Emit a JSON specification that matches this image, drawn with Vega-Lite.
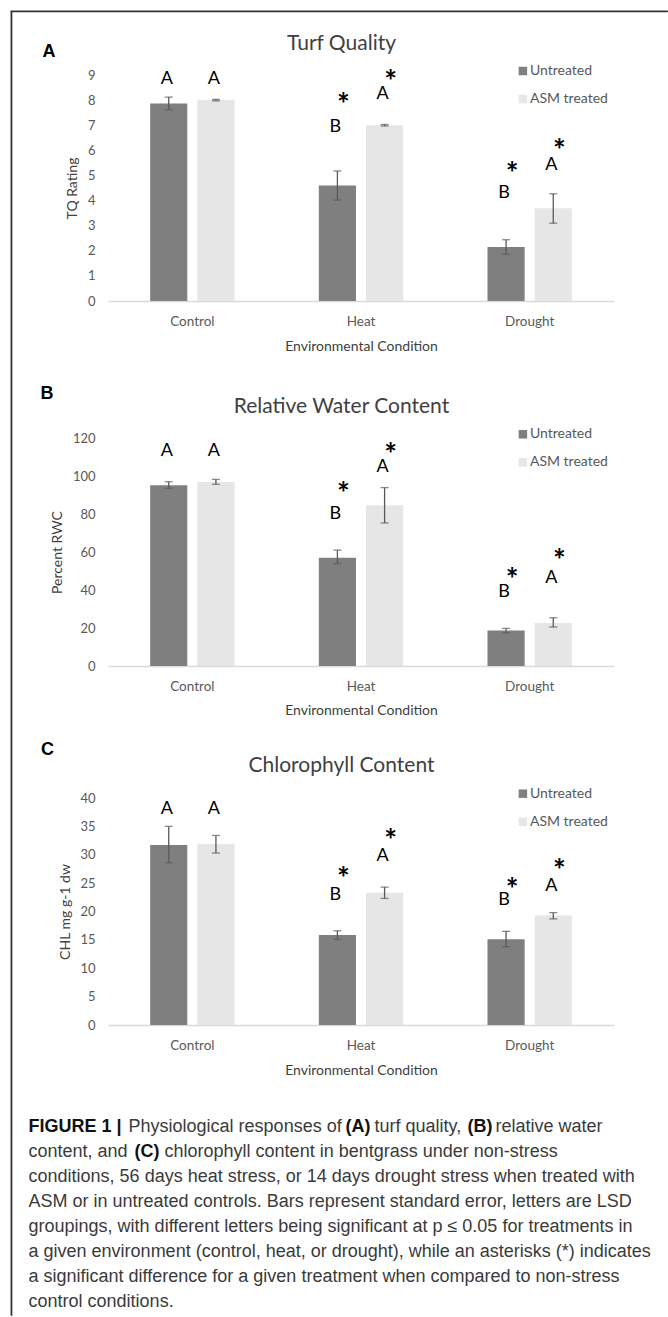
{
  "$schema": "https://vega.github.io/schema/vega-lite/v6.json",
  "padding": {"left": 10, "top": 10, "right": 0, "bottom": 0},
  "autosize": {"type": "pad"},
  "background": "white",
  "spacing": 0,
  "bounds": "flush",
  "config": {
    "view": {"stroke": null},
    "font": "Lato",
    "axis": {"grid": false, "ticks": false, "tickSize": 0, "domain": false, "labelFont": "Lato", "labelFontSize": 13, "labelColor": "#595959", "titleFont": "Lato", "titleFontSize": 14, "titleColor": "#404040", "titleFontWeight": "normal"},
    "legend": {"labelFont": "Lato", "labelFontSize": 14, "labelColor": "#595959", "symbolType": "square", "symbolSize": 72, "symbolStrokeWidth": 0, "rowPadding": 14, "labelOffset": 0, "padding": 0}
  },
  "vconcat": [
    {
      "width": 656, "height": 0.5,
      "view": {"stroke": "#333333", "strokeWidth": 1.3},
      "data": {"values": [{"v": 0}]},
      "mark": {"type": "point", "opacity": 0, "size": 0, "strokeWidth": 0},
      "encoding": {}
    },
    {
      "hconcat": [
        {
          "width": 0.5, "height": 1303,
          "view": {"stroke": "#333333", "strokeWidth": 1.3},
          "data": {"values": [{"v": 0}]},
          "mark": {"type": "point", "opacity": 0, "size": 0, "strokeWidth": 0},
          "encoding": {}
        },
        {
          "resolve": {"scale": {"color": "independent"}},
          "vconcat": [
            {
              "width": 506, "height": 62.9,
              "data": {"values": [{"v": 0}]},
              "mark": {"type": "point", "opacity": 0, "size": 0, "strokeWidth": 0},
              "encoding": {
                "x": {"field": "v", "type": "quantitative", "axis": {"title": "Turf Quality", "labels": false, "ticks": false, "domain": false, "grid": false, "titleX": 233, "titleY": -31.7, "titleAlign": "center", "titleBaseline": "middle", "titleFontSize": 21, "titleColor": "#404040"}},
                "y": {"field": "v", "type": "quantitative", "axis": {"title": "A", "labels": false, "ticks": false, "domain": false, "grid": false, "titleAngle": 0, "titleX": -59.6, "titleY": 39, "titleAlign": "center", "titleBaseline": "middle", "titleFont": "Liberation Sans", "titleFontSize": 18, "titleFontWeight": "bold", "titleColor": "#000000"}}
              }
            },
            {
              "width": 506, "height": 226,
              "data": {"values": [
                {"cond": "Control", "trt": "Untreated", "mean": 7.87, "lo": 7.62, "hi": 8.12, "let": "A", "ly": 8.87},
                {"cond": "Control", "trt": "ASM treated", "mean": 8.0, "lo": 7.97, "hi": 8.03, "let": "A", "ly": 8.87},
                {"cond": "Heat", "trt": "Untreated", "mean": 4.6, "lo": 4.02, "hi": 5.18, "let": "B", "ly": 6.97, "star": "*", "sy": 8.07},
                {"cond": "Heat", "trt": "ASM treated", "mean": 7.0, "lo": 6.97, "hi": 7.03, "let": "A", "ly": 8.27, "star": "*", "sy": 9.0},
                {"cond": "Drought", "trt": "Untreated", "mean": 2.15, "lo": 1.86, "hi": 2.44, "let": "B", "ly": 4.35, "star": "*", "sy": 5.35},
                {"cond": "Drought", "trt": "ASM treated", "mean": 3.69, "lo": 3.1, "hi": 4.27, "let": "A", "ly": 5.44, "star": "*", "sy": 6.24}
              ]},
              "encoding": {
                "x": {"field": "cond", "type": "nominal", "sort": ["Control", "Heat", "Drought"], "scale": {"paddingInner": 0.5, "paddingOuter": 0.25}, "axis": {"title": "Environmental Condition", "labelAngle": 0, "labelFontSize": 13.5, "labelPadding": 20.5, "labelBaseline": "middle", "domain": true, "domainColor": "#d9d9d9", "domainWidth": 1.3, "titleY": 45, "titleBaseline": "middle"}},
                "xOffset": {"field": "trt", "type": "nominal", "sort": ["Untreated", "ASM treated"], "scale": {"paddingInner": 0.213, "paddingOuter": 0}}
              },
              "layer": [
                {"mark": {"type": "bar"}, "encoding": {
                  "y": {"field": "mean", "type": "quantitative", "title": "TQ Rating", "scale": {"domain": [0, 9]}, "axis": {"title": "TQ Rating", "values": [0, 1, 2, 3, 4, 5, 6, 7, 8, 9], "labelPadding": 13, "titleX": -35.3, "titleBaseline": "middle"}},
                  "color": {"field": "trt", "type": "nominal", "sort": ["Untreated", "ASM treated"], "scale": {"domain": ["Untreated", "ASM treated"], "range": ["#7f7f7f", "#e7e6e6"]}, "legend": {"title": null, "orient": "none", "legendX": 407.9, "legendY": -11}}
                }},
                {"mark": {"type": "rule", "color": "#595959", "strokeWidth": 1.3}, "encoding": {
                  "y": {"field": "lo", "type": "quantitative", "title": "TQ Rating", "scale": {"domain": [0, 9]}, "axis": {"title": "TQ Rating", "values": [0, 1, 2, 3, 4, 5, 6, 7, 8, 9], "labelPadding": 13, "titleX": -35.3, "titleBaseline": "middle"}}, "y2": {"field": "hi"}}},
                {"mark": {"type": "tick", "color": "#595959", "thickness": 1.3, "size": 8}, "encoding": {
                  "y": {"field": "lo", "type": "quantitative", "title": "TQ Rating", "scale": {"domain": [0, 9]}, "axis": {"title": "TQ Rating", "values": [0, 1, 2, 3, 4, 5, 6, 7, 8, 9], "labelPadding": 13, "titleX": -35.3, "titleBaseline": "middle"}}}},
                {"mark": {"type": "tick", "color": "#595959", "thickness": 1.3, "size": 8}, "encoding": {
                  "y": {"field": "hi", "type": "quantitative", "title": "TQ Rating", "scale": {"domain": [0, 9]}, "axis": {"title": "TQ Rating", "values": [0, 1, 2, 3, 4, 5, 6, 7, 8, 9], "labelPadding": 13, "titleX": -35.3, "titleBaseline": "middle"}}}},
                {"mark": {"type": "text", "font": "Lato", "fontSize": 18, "color": "#000000", "baseline": "middle", "dx": -2, "dy": 1}, "encoding": {
                  "y": {"field": "ly", "type": "quantitative", "title": "TQ Rating", "scale": {"domain": [0, 9]}, "axis": {"title": "TQ Rating", "values": [0, 1, 2, 3, 4, 5, 6, 7, 8, 9], "labelPadding": 13, "titleX": -35.3, "titleBaseline": "middle"}}, "text": {"field": "let"}}},
                {"transform": [{"filter": "datum.star"}], "mark": {"type": "text", "font": "Lato", "fontWeight": "bold", "fontSize": 30, "color": "#000000", "baseline": "middle", "dx": 6, "dy": 8}, "encoding": {
                  "y": {"field": "sy", "type": "quantitative", "title": "TQ Rating", "scale": {"domain": [0, 9]}, "axis": {"title": "TQ Rating", "values": [0, 1, 2, 3, 4, 5, 6, 7, 8, 9], "labelPadding": 13, "titleX": -35.3, "titleBaseline": "middle"}}, "text": {"field": "star"}}}
              ]
            },
            {
              "width": 506, "height": 137,
              "data": {"values": [{"v": 0}]},
              "mark": {"type": "point", "opacity": 0, "size": 0, "strokeWidth": 0},
              "encoding": {
                "x": {"field": "v", "type": "quantitative", "axis": {"title": "Relative Water Content", "labels": false, "ticks": false, "domain": false, "grid": false, "titleX": 233, "titleY": -32, "titleAlign": "center", "titleBaseline": "middle", "titleFontSize": 21, "titleColor": "#404040"}},
                "y": {"field": "v", "type": "quantitative", "axis": {"title": "B", "labels": false, "ticks": false, "domain": false, "grid": false, "titleAngle": 0, "titleX": -61.6, "titleY": 92, "titleAlign": "center", "titleBaseline": "middle", "titleFont": "Liberation Sans", "titleFontSize": 18, "titleFontWeight": "bold", "titleColor": "#000000"}}
              }
            },
            {
              "width": 506, "height": 228,
              "data": {"values": [
                {"cond": "Control", "trt": "Untreated", "mean": 95.1, "lo": 93.5, "hi": 97.0, "let": "A", "ly": 113.7},
                {"cond": "Control", "trt": "ASM treated", "mean": 96.8, "lo": 95.6, "hi": 98.2, "let": "A", "ly": 113.7},
                {"cond": "Heat", "trt": "Untreated", "mean": 57.0, "lo": 53.9, "hi": 61.0, "let": "B", "ly": 80.4, "star": "*", "sy": 94.4},
                {"cond": "Heat", "trt": "ASM treated", "mean": 84.6, "lo": 75.3, "hi": 93.9, "let": "A", "ly": 105.3, "star": "*", "sy": 114.6},
                {"cond": "Drought", "trt": "Untreated", "mean": 18.7, "lo": 17.5, "hi": 19.8, "let": "B", "ly": 39.5, "star": "*", "sy": 49.1},
                {"cond": "Drought", "trt": "ASM treated", "mean": 22.6, "lo": 20.5, "hi": 25.4, "let": "A", "ly": 46.8, "star": "*", "sy": 59.1}
              ]},
              "encoding": {
                "x": {"field": "cond", "type": "nominal", "sort": ["Control", "Heat", "Drought"], "scale": {"paddingInner": 0.5, "paddingOuter": 0.25}, "axis": {"title": "Environmental Condition", "labelAngle": 0, "labelFontSize": 13.5, "labelPadding": 20.5, "labelBaseline": "middle", "domain": true, "domainColor": "#d9d9d9", "domainWidth": 1.3, "titleY": 44.5, "titleBaseline": "middle"}},
                "xOffset": {"field": "trt", "type": "nominal", "sort": ["Untreated", "ASM treated"], "scale": {"paddingInner": 0.213, "paddingOuter": 0}}
              },
              "layer": [
                {"mark": {"type": "bar"}, "encoding": {
                  "y": {"field": "mean", "type": "quantitative", "title": "Percent RWC", "scale": {"domain": [0, 120]}, "axis": {"title": "Percent RWC", "values": [0, 20, 40, 60, 80, 100, 120], "labelPadding": 13, "titleX": -50.3, "titleBaseline": "middle"}},
                  "color": {"field": "trt", "type": "nominal", "sort": ["Untreated", "ASM treated"], "scale": {"domain": ["Untreated", "ASM treated"], "range": ["#7f7f7f", "#e7e6e6"]}, "legend": {"title": null, "orient": "none", "legendX": 407.9, "legendY": -10.7}}
                }},
                {"mark": {"type": "rule", "color": "#595959", "strokeWidth": 1.3}, "encoding": {
                  "y": {"field": "lo", "type": "quantitative", "title": "Percent RWC", "scale": {"domain": [0, 120]}, "axis": {"title": "Percent RWC", "values": [0, 20, 40, 60, 80, 100, 120], "labelPadding": 13, "titleX": -50.3, "titleBaseline": "middle"}}, "y2": {"field": "hi"}}},
                {"mark": {"type": "tick", "color": "#595959", "thickness": 1.3, "size": 8}, "encoding": {
                  "y": {"field": "lo", "type": "quantitative", "title": "Percent RWC", "scale": {"domain": [0, 120]}, "axis": {"title": "Percent RWC", "values": [0, 20, 40, 60, 80, 100, 120], "labelPadding": 13, "titleX": -50.3, "titleBaseline": "middle"}}}},
                {"mark": {"type": "tick", "color": "#595959", "thickness": 1.3, "size": 8}, "encoding": {
                  "y": {"field": "hi", "type": "quantitative", "title": "Percent RWC", "scale": {"domain": [0, 120]}, "axis": {"title": "Percent RWC", "values": [0, 20, 40, 60, 80, 100, 120], "labelPadding": 13, "titleX": -50.3, "titleBaseline": "middle"}}}},
                {"mark": {"type": "text", "font": "Lato", "fontSize": 18, "color": "#000000", "baseline": "middle", "dx": -2, "dy": 1}, "encoding": {
                  "y": {"field": "ly", "type": "quantitative", "title": "Percent RWC", "scale": {"domain": [0, 120]}, "axis": {"title": "Percent RWC", "values": [0, 20, 40, 60, 80, 100, 120], "labelPadding": 13, "titleX": -50.3, "titleBaseline": "middle"}}, "text": {"field": "let"}}},
                {"transform": [{"filter": "datum.star"}], "mark": {"type": "text", "font": "Lato", "fontWeight": "bold", "fontSize": 30, "color": "#000000", "baseline": "middle", "dx": 6, "dy": 8}, "encoding": {
                  "y": {"field": "sy", "type": "quantitative", "title": "Percent RWC", "scale": {"domain": [0, 120]}, "axis": {"title": "Percent RWC", "values": [0, 20, 40, 60, 80, 100, 120], "labelPadding": 13, "titleX": -50.3, "titleBaseline": "middle"}}, "text": {"field": "star"}}}
              ]
            },
            {
              "width": 506, "height": 132,
              "data": {"values": [{"v": 0}]},
              "mark": {"type": "point", "opacity": 0, "size": 0, "strokeWidth": 0},
              "encoding": {
                "x": {"field": "v", "type": "quantitative", "axis": {"title": "Chlorophyll Content", "labels": false, "ticks": false, "domain": false, "grid": false, "titleX": 233, "titleY": -32.7, "titleAlign": "center", "titleBaseline": "middle", "titleFontSize": 21, "titleColor": "#404040"}},
                "y": {"field": "v", "type": "quantitative", "axis": {"title": "C", "labels": false, "ticks": false, "domain": false, "grid": false, "titleAngle": 0, "titleX": -61, "titleY": 83.5, "titleAlign": "center", "titleBaseline": "middle", "titleFont": "Liberation Sans", "titleFontSize": 18, "titleFontWeight": "bold", "titleColor": "#000000"}}
              }
            },
            {
              "width": 506, "height": 227,
              "data": {"values": [
                {"cond": "Control", "trt": "Untreated", "mean": 31.7, "lo": 28.6, "hi": 35.0, "let": "A", "ly": 38.2},
                {"cond": "Control", "trt": "ASM treated", "mean": 31.9, "lo": 30.3, "hi": 33.4, "let": "A", "ly": 38.2},
                {"cond": "Heat", "trt": "Untreated", "mean": 15.85, "lo": 15.1, "hi": 16.6, "let": "B", "ly": 23.0, "star": "*", "sy": 26.9},
                {"cond": "Heat", "trt": "ASM treated", "mean": 23.3, "lo": 22.3, "hi": 24.3, "let": "A", "ly": 29.9, "star": "*", "sy": 33.6},
                {"cond": "Drought", "trt": "Untreated", "mean": 15.1, "lo": 13.8, "hi": 16.5, "let": "B", "ly": 22.2, "star": "*", "sy": 25.1},
                {"cond": "Drought", "trt": "ASM treated", "mean": 19.3, "lo": 18.7, "hi": 19.8, "let": "A", "ly": 24.6, "star": "*", "sy": 28.3}
              ]},
              "encoding": {
                "x": {"field": "cond", "type": "nominal", "sort": ["Control", "Heat", "Drought"], "scale": {"paddingInner": 0.5, "paddingOuter": 0.25}, "axis": {"title": "Environmental Condition", "labelAngle": 0, "labelFontSize": 13.5, "labelPadding": 20.5, "labelBaseline": "middle", "domain": true, "domainColor": "#d9d9d9", "domainWidth": 1.3, "titleY": 45.5, "titleBaseline": "middle"}},
                "xOffset": {"field": "trt", "type": "nominal", "sort": ["Untreated", "ASM treated"], "scale": {"paddingInner": 0.213, "paddingOuter": 0}}
              },
              "layer": [
                {"mark": {"type": "bar"}, "encoding": {
                  "y": {"field": "mean", "type": "quantitative", "title": "CHL mg g-1 dw", "scale": {"domain": [0, 40]}, "axis": {"title": "CHL mg g-1 dw", "values": [0, 5, 10, 15, 20, 25, 30, 35, 40], "labelPadding": 13, "titleX": -42.3, "titleBaseline": "middle"}},
                  "color": {"field": "trt", "type": "nominal", "sort": ["Untreated", "ASM treated"], "scale": {"domain": ["Untreated", "ASM treated"], "range": ["#7f7f7f", "#e7e6e6"]}, "legend": {"title": null, "orient": "none", "legendX": 407.9, "legendY": -11.3}}
                }},
                {"mark": {"type": "rule", "color": "#595959", "strokeWidth": 1.3}, "encoding": {
                  "y": {"field": "lo", "type": "quantitative", "title": "CHL mg g-1 dw", "scale": {"domain": [0, 40]}, "axis": {"title": "CHL mg g-1 dw", "values": [0, 5, 10, 15, 20, 25, 30, 35, 40], "labelPadding": 13, "titleX": -42.3, "titleBaseline": "middle"}}, "y2": {"field": "hi"}}},
                {"mark": {"type": "tick", "color": "#595959", "thickness": 1.3, "size": 8}, "encoding": {
                  "y": {"field": "lo", "type": "quantitative", "title": "CHL mg g-1 dw", "scale": {"domain": [0, 40]}, "axis": {"title": "CHL mg g-1 dw", "values": [0, 5, 10, 15, 20, 25, 30, 35, 40], "labelPadding": 13, "titleX": -42.3, "titleBaseline": "middle"}}}},
                {"mark": {"type": "tick", "color": "#595959", "thickness": 1.3, "size": 8}, "encoding": {
                  "y": {"field": "hi", "type": "quantitative", "title": "CHL mg g-1 dw", "scale": {"domain": [0, 40]}, "axis": {"title": "CHL mg g-1 dw", "values": [0, 5, 10, 15, 20, 25, 30, 35, 40], "labelPadding": 13, "titleX": -42.3, "titleBaseline": "middle"}}}},
                {"mark": {"type": "text", "font": "Lato", "fontSize": 18, "color": "#000000", "baseline": "middle", "dx": -2, "dy": 1}, "encoding": {
                  "y": {"field": "ly", "type": "quantitative", "title": "CHL mg g-1 dw", "scale": {"domain": [0, 40]}, "axis": {"title": "CHL mg g-1 dw", "values": [0, 5, 10, 15, 20, 25, 30, 35, 40], "labelPadding": 13, "titleX": -42.3, "titleBaseline": "middle"}}, "text": {"field": "let"}}},
                {"transform": [{"filter": "datum.star"}], "mark": {"type": "text", "font": "Lato", "fontWeight": "bold", "fontSize": 30, "color": "#000000", "baseline": "middle", "dx": 6, "dy": 8}, "encoding": {
                  "y": {"field": "sy", "type": "quantitative", "title": "CHL mg g-1 dw", "scale": {"domain": [0, 40]}, "axis": {"title": "CHL mg g-1 dw", "values": [0, 5, 10, 15, 20, 25, 30, 35, 40], "labelPadding": 13, "titleX": -42.3, "titleBaseline": "middle"}}, "text": {"field": "star"}}}
              ]
            },
            {
              "width": 506, "height": 88.5,
              "data": {"values": [{"v": 0}]},
              "mark": {"type": "point", "opacity": 0, "size": 0, "strokeWidth": 0},
              "encoding": {}
            },
            {
              "width": 506, "height": 201,
              "encoding": {
                "x": {"value": 0},
                "y": {"field": "line", "type": "ordinal", "scale": {"type": "point", "padding": 0.5, "domain": [1, 2, 3, 4, 5, 6, 7, 8]}, "axis": null},
                "text": {"field": "t"}
              },
              "layer": [
                {"data": {"values": [
                  {"line": 2, "t": "content, and"},
                  {"line": 3, "t": "conditions, 56 days heat stress, or 14 days drought stress when treated with"},
                  {"line": 4, "t": "ASM or in untreated controls. Bars represent standard error, letters are LSD"},
                  {"line": 5, "t": "groupings, with different letters being significant at p ≤ 0.05 for treatments in"},
                  {"line": 6, "t": "a given environment (control, heat, or drought), while an asterisks (*) indicates"},
                  {"line": 7, "t": "a significant difference for a given treatment when compared to non-stress"},
                  {"line": 8, "t": "control conditions."}
                ]}, "mark": {"type": "text", "align": "left", "baseline": "middle", "dx": -79.45, "font": "Liberation Sans", "fontSize": 18, "color": "#3a3a3a"}},
                {"data": {"values": [{"line": 1, "t": "FIGURE 1 |"}]}, "mark": {"type": "text", "align": "left", "baseline": "middle", "dx": -79.45, "font": "Liberation Sans", "fontSize": 18, "fontWeight": "bold", "color": "#111111"}},
                {"data": {"values": [{"line": 1, "t": "Physiological responses of"}]}, "mark": {"type": "text", "align": "left", "baseline": "middle", "dx": 20.55, "font": "Liberation Sans", "fontSize": 18, "color": "#3a3a3a"}},
                {"data": {"values": [{"line": 1, "t": "(A)"}]}, "mark": {"type": "text", "align": "left", "baseline": "middle", "dx": 237.55, "font": "Liberation Sans", "fontSize": 18, "fontWeight": "bold", "color": "#111111"}},
                {"data": {"values": [{"line": 1, "t": "turf quality,"}]}, "mark": {"type": "text", "align": "left", "baseline": "middle", "dx": 266.55, "font": "Liberation Sans", "fontSize": 18, "color": "#3a3a3a"}},
                {"data": {"values": [{"line": 1, "t": "(B)"}]}, "mark": {"type": "text", "align": "left", "baseline": "middle", "dx": 359.55, "font": "Liberation Sans", "fontSize": 18, "fontWeight": "bold", "color": "#111111"}},
                {"data": {"values": [{"line": 1, "t": "relative water"}]}, "mark": {"type": "text", "align": "left", "baseline": "middle", "dx": 387.55, "font": "Liberation Sans", "fontSize": 18, "color": "#3a3a3a"}},
                {"data": {"values": [{"line": 2, "t": "(C)"}]}, "mark": {"type": "text", "align": "left", "baseline": "middle", "dx": 26.55, "font": "Liberation Sans", "fontSize": 18, "fontWeight": "bold", "color": "#111111"}},
                {"data": {"values": [{"line": 2, "t": "chlorophyll content in bentgrass under non-stress"}]}, "mark": {"type": "text", "align": "left", "baseline": "middle", "dx": 56.55, "font": "Liberation Sans", "fontSize": 18, "color": "#3a3a3a"}}
              ]
            }
          ],
          "spacing": 0,
          "bounds": "flush"
        }
      ],
      "spacing": 96,
      "bounds": "flush"
    }
  ]
}
